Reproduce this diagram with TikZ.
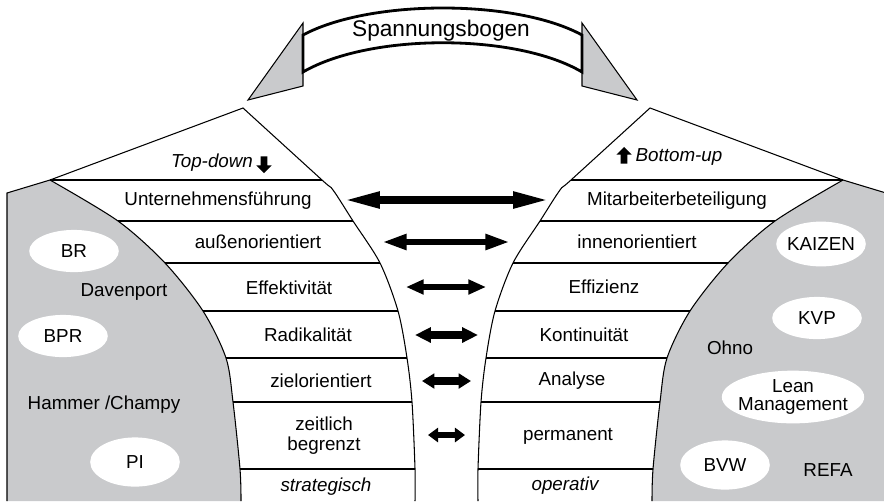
\documentclass[tikz,border=0pt]{standalone}
\usepackage{fontspec}
\setmainfont{Liberation Sans}
\usepackage{tikz}
\usetikzlibrary{shapes.geometric, shapes.arrows, arrows.meta, positioning}
\definecolor{flankgray}{HTML}{C9CACC}
\newcommand{\lblsize}{\fontsize{10.7pt}{11.5pt}\selectfont}

\tikzset{
    lbl/.style={font=\lblsize, align=center, inner sep=0pt},
    tag/.style={lbl, font=\lblsize\itshape},
    blob/.style={ellipse, fill=white, font=\lblsize, align=center, inner sep=0pt, minimum width=51pt, minimum height=24pt},
    rowline/.style={line width=0.8pt},
    rim/.style={line width=0.6pt},
    updown/.style={single arrow, fill=black, inner sep=1.7pt, single arrow head extend=2.5pt, minimum height=9.5pt},
}

\begin{document}
\begin{tikzpicture}[x=0.02cm, y=-0.02cm]
    \useasboundingbox (0,0) rectangle (884,501);

    % the two flanks, the right one is the mirror image
    \foreach \flip/\off in {1/0, -1/893} {
        \begin{scope}[shift={(\off,0)}, xscale=\flip]
            \fill[flankgray] (7,501) -- (7,193) -- plot[smooth] coordinates {(50,180) (118,221) (165,263) (203,311) (226,358) (233,402) (240,469) (241,501)} -- cycle;
            \draw[rim] plot[smooth] coordinates {(50,180) (118,221) (165,263) (203,311) (226,358) (233,402) (240,469) (241,501)};
            \draw[rim] (7,501) -- (7,193) -- (50,180) -- plot[smooth] coordinates {(243,108) (322,180) (333,190) (353,221) (380,263) (398,311) (407,358) (412,402) (415,469) (415,501)};
            \foreach \ya/\xb/\xa in {180/50/322, 221/118/353, 263/165/380, 311/203/398, 358/226/407, 402/233/412, 469/240/415}
                \draw[rowline] (\xb,\ya) -- (\xa,\ya);
        \end{scope}
    }

    % Spannungsbogen on top
    \draw[rim, fill=flankgray] (303,23) -- (303,86) -- (248,100) -- cycle;
    \draw[rim, fill=flankgray] (582,23) -- (582,86) -- (637,100) -- cycle;
    \draw[line width=1.6pt, fill=white] (303,35) .. controls (370,-1) and (516,-1) .. (582,35) -- (582,72) .. controls (516,33) and (370,33) .. (303,72) -- cycle;
    \node[font=\fontsize{12.9pt}{14pt}\selectfont, inner sep=0pt] (bogen) at (441,31) {Spannungsbogen};

    % left column
    \node[tag] (topdown) at (212,163) {Top-down};
    \node[updown, rotate=-90] (downarrow) at (264,163) {};
    \node[lbl] (fuehrung) at (218,201) {Unternehmensführung};
    \node[lbl] (aussen) at (258,242) {außenorientiert};
    \node[lbl] (effekt) at (289,288) {Effektivität};
    \node[lbl] (radikal) at (308,335) {Radikalität};
    \node[lbl] (ziel) at (321,381) {zielorientiert};
    \node[lbl] (begrenzt) at (324,436) {zeitlich\\begrenzt};
    \node[tag] (strat) at (326,487) {strategisch};

    % right column
    \node[updown, rotate=90] (uparrow) at (624,157) {};
    \node[tag] (bottomup) at (679,157) {Bottom-up};
    \node[lbl] (beteil) at (677,201) {Mitarbeiterbeteiligung};
    \node[lbl] (innen) at (637,242) {innenorientiert};
    \node[lbl] (effiz) at (604,287) {Effizienz};
    \node[lbl] (kontin) at (584,335) {Kontinuität};
    \node[lbl] (analyse) at (572,381) {Analyse};
    \node[lbl] (perm) at (568,436) {permanent};
    \node[tag] (operativ) at (565,486) {operativ};

    % names in the grey flanks
    \node[blob] (br) at (74,251) {BR};
    \node[lbl] (davenport) at (124,292) {Davenport};
    \node[blob] (bpr) at (63,336) {BPR};
    \node[lbl] (hammer) at (104,405) {Hammer /Champy};
    \node[blob, minimum height=28pt] (pi) at (135,462) {PI};
    \node[blob, minimum height=25.5pt, inner xsep=-2pt] (kaizen) at (821,244) {KAIZEN};
    \node[blob] (kvp) at (817,318) {KVP};
    \node[lbl] (ohno) at (730,348) {Ohno};
    \node[blob, font=\fontsize{10.7pt}{10.5pt}\selectfont, minimum width=81pt, minimum height=30pt, inner xsep=-6pt, inner ysep=-3pt] (lean) at (793,397) {Lean\\Management};
    \node[blob, minimum height=28pt] (bvw) at (725,465) {BVW};
    \node[lbl] (refa) at (828,470) {REFA};

    % arrows across the funnel
    \foreach \ya/\xl/\xr/\lw/\hl/\hw [count=\i] in {200/343/550/4.2/21/8.6, 242/382/510/3.9/14/8.3, 287/406/486/3.9/10/8, 335/415/478/4/9/8.3, 381/422/471/4/7/8.3, 435/428/465/3.9/5.7/8} {
        \coordinate (l\i) at (\xl,\ya);
        \coordinate (r\i) at (\xr,\ya);
        \draw[line width=\lw pt, {Triangle[length=\hl pt, width=\hw pt]}-{Triangle[length=\hl pt, width=\hw pt]}] (l\i) -- (r\i);
    }
\end{tikzpicture}
\end{document}
